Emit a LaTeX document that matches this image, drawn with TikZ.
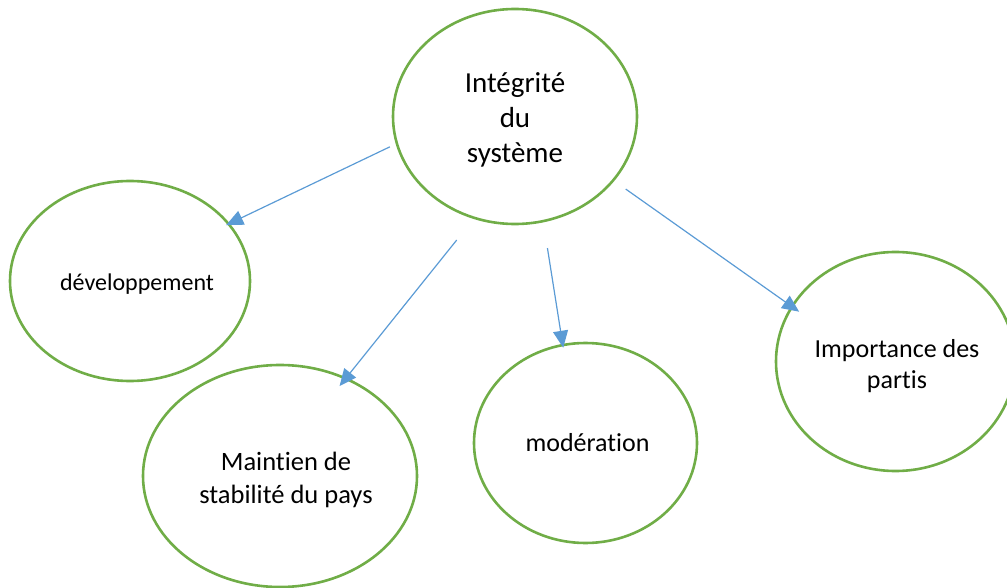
\documentclass[tikz,border=0pt]{standalone}
\usepackage{fontspec}
\setmainfont{Carlito}[Ligatures=NoCommon]
\usetikzlibrary{shapes.geometric,arrows.meta}
\definecolor{bubblegreen}{HTML}{70AD47}
\definecolor{arrowblue}{HTML}{5B9BD5}
\begin{document}
\begin{tikzpicture}[x=1pt,y=-1pt,
        bubble/.style={draw=bubblegreen,line width=2.6pt,ellipse,inner sep=0pt},
        arr/.style={arrowblue,line width=1.2pt,-{Triangle[length=17pt,width=15pt]}}]
    \useasboundingbox (0,0) rectangle (1007,588);
    \node[bubble,minimum width=244pt,minimum height=215pt,
        label={[yshift=-3pt,align=center,font=\fontsize{29}{35}\selectfont]center:Intégrité\\du\\système}] (sys) at (515,116.5) {};
    \node[bubble,minimum width=240pt,minimum height=200pt,
        label={[xshift=7pt,yshift=-3pt,font=\fontsize{24}{29}\selectfont]center:développement}] (dev) at (130,281) {};
    \node[bubble,minimum width=274pt,minimum height=222pt,
        label={[xshift=6pt,yshift=-4pt,align=center,font=\fontsize{26.5}{33}\selectfont]center:Maintien de\\stabilité du pays}] (stab) at (280,476) {};
    \node[bubble,minimum width=223pt,minimum height=200pt,
        label={[xshift=2pt,font=\fontsize{26}{31}\selectfont]center:modération}] (mod) at (585.5,443) {};
    \node[bubble,minimum width=239pt,minimum height=219pt,
        label={[xshift=1.5pt,yshift=-4.5pt,align=center,font=\fontsize{26}{31}\selectfont]center:Importance des\\partis}] (imp) at (895.5,361.5) {};
    \draw[arr,shorten <=6.5pt,shorten >=-4pt] (sys.193) -- (dev.30);
    \draw[arr,shorten <=27pt,shorten >=-11pt] (sys.248) -- (stab.56);
    \draw[arr,shorten <=26pt,shorten >=-4pt] (sys.285) -- (mod.103);
    \draw[arr,shorten <=14pt,shorten >=-10pt] (sys.327) -- (imp.152);
\end{tikzpicture}
\end{document}
